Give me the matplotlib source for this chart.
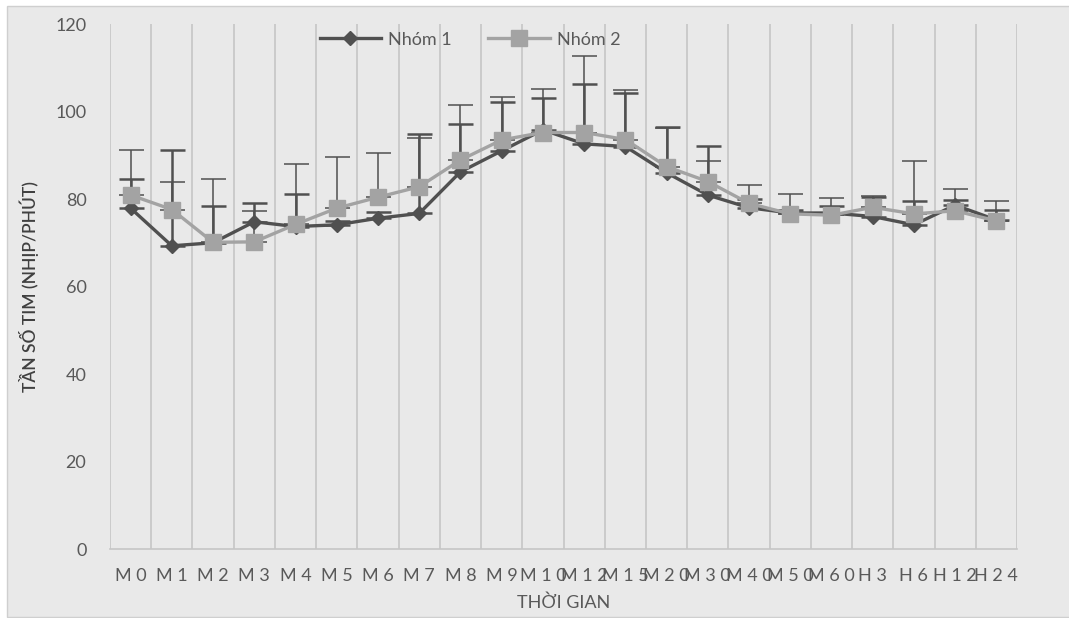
import numpy as np
import matplotlib
matplotlib.use("Agg")
import matplotlib.pyplot as plt
from matplotlib.patches import Rectangle

plt.rcParams['font.family'] = ['Lato', 'DejaVu Sans']

# du lieu
thoi_gian = ["M 0", "M 1", "M 2", "M 3", "M 4", "M 5", "M 6", "M 7", "M 8", "M 9",
             "M 1 0", "M 1 2", "M 1 5", "M 2 0", "M 3 0", "M 4 0", "M 5 0", "M 6 0",
             "H 3", "H 6", "H 1 2", "H 2 4"]
nhom1 = [77.9, 69.3, 70.0, 74.8, 73.7, 74.1, 75.6, 76.7, 86.2, 91.0, 95.8,
         92.6, 92.0, 86.0, 80.9, 78.0, 76.8, 76.8, 76.0, 74.1, 78.6, 75.2]
sd1 = [6.6, 21.9, 8.3, 4.4, 7.4, 0.9, 1.4, 18.1, 10.9, 11.1, 7.4,
       13.6, 12.3, 10.5, 11.3, 2.0, 0.7, 1.6, 4.5, 5.4, 1.2, 2.4]
nhom2 = [80.9, 77.6, 70.1, 70.2, 74.2, 77.9, 80.4, 82.8, 88.9, 93.5, 95.2,
         95.2, 93.6, 87.4, 84.0, 79.0, 76.6, 76.3, 78.1, 76.6, 77.3, 75.0]
sd2 = [10.3, 6.3, 14.4, 7.0, 13.8, 11.8, 10.2, 11.1, 12.6, 9.9, 10.0,
       17.4, 11.3, 8.9, 4.6, 4.1, 4.5, 3.9, 2.6, 12.1, 4.9, 4.5]

nen = '#e9e9e9'
mau1 = '#505050'
mau2 = '#a3a3a3'
chu = '#595959'

fig = plt.figure(figsize=(10.69, 6.18), dpi=100)
fig.patch.set_facecolor('white')
fig.patches.append(Rectangle((7 / 1069, 1 - 617 / 618), 1, 611 / 618, transform=fig.transFigure,
                             facecolor=nen, edgecolor='#cfcfcf', lw=1, zorder=-10))

ax = fig.add_axes([110 / 1069, 1 - 549 / 618, 907 / 1069, 525 / 618])
ax.set_facecolor(nen)

x = np.arange(len(thoi_gian))

# thanh sai so (chi phia tren)
ax.errorbar(x, nhom1, yerr=[np.zeros(len(x)), sd1], fmt='none', ecolor=mau1,
            elinewidth=1.8, capsize=9, capthick=1.8, zorder=2)
ax.errorbar(x, nhom2, yerr=[np.zeros(len(x)), sd2], fmt='none', ecolor=mau1,
            elinewidth=1.1, capsize=9, capthick=1.1, zorder=2)

ax.plot(x, nhom1, color=mau1, lw=2.4, marker='D', markersize=7.5, label='Nhóm 1', zorder=3)
ax.plot(x, nhom2, color=mau2, lw=2.4, marker='s', markersize=11.5, label='Nhóm 2', zorder=4)

ax.set_xlim(-0.5, len(x) - 0.5)
ax.set_ylim(0, 120)
ax.set_yticks(range(0, 121, 20))
ax.set_xticks(x)
ax.set_xticklabels(thoi_gian)
ax.set_xticks(np.arange(-0.5, len(x), 1), minor=True)
ax.grid(which='minor', axis='x', color='#c6c6c6', lw=1.2)
ax.grid(which='major', visible=False)
ax.tick_params(axis='both', which='both', length=0, colors=chu, labelsize=13)
ax.tick_params(axis='y', pad=17)
ax.tick_params(axis='x', pad=14)

for s in ['top', 'right', 'left']:
    ax.spines[s].set_visible(False)
ax.spines['bottom'].set_color('#c6c6c6')
ax.spines['bottom'].set_linewidth(1.2)

ax.set_ylabel('TẦN SỐ TIM (NHỊP/PHÚT)', color='#404040', fontsize=12.5,
              fontweight='semibold', labelpad=12)
ax.set_xlabel('THỜI GIAN', color=chu, fontsize=13, labelpad=7)

ax.legend(loc='center', bbox_to_anchor=(0.397, 0.97), ncol=2, frameon=False,
          fontsize=13, labelcolor=chu, handlelength=3.4, columnspacing=2.0,
          handletextpad=0.4)

fig.savefig('out.png', dpi=100, facecolor=fig.get_facecolor())
